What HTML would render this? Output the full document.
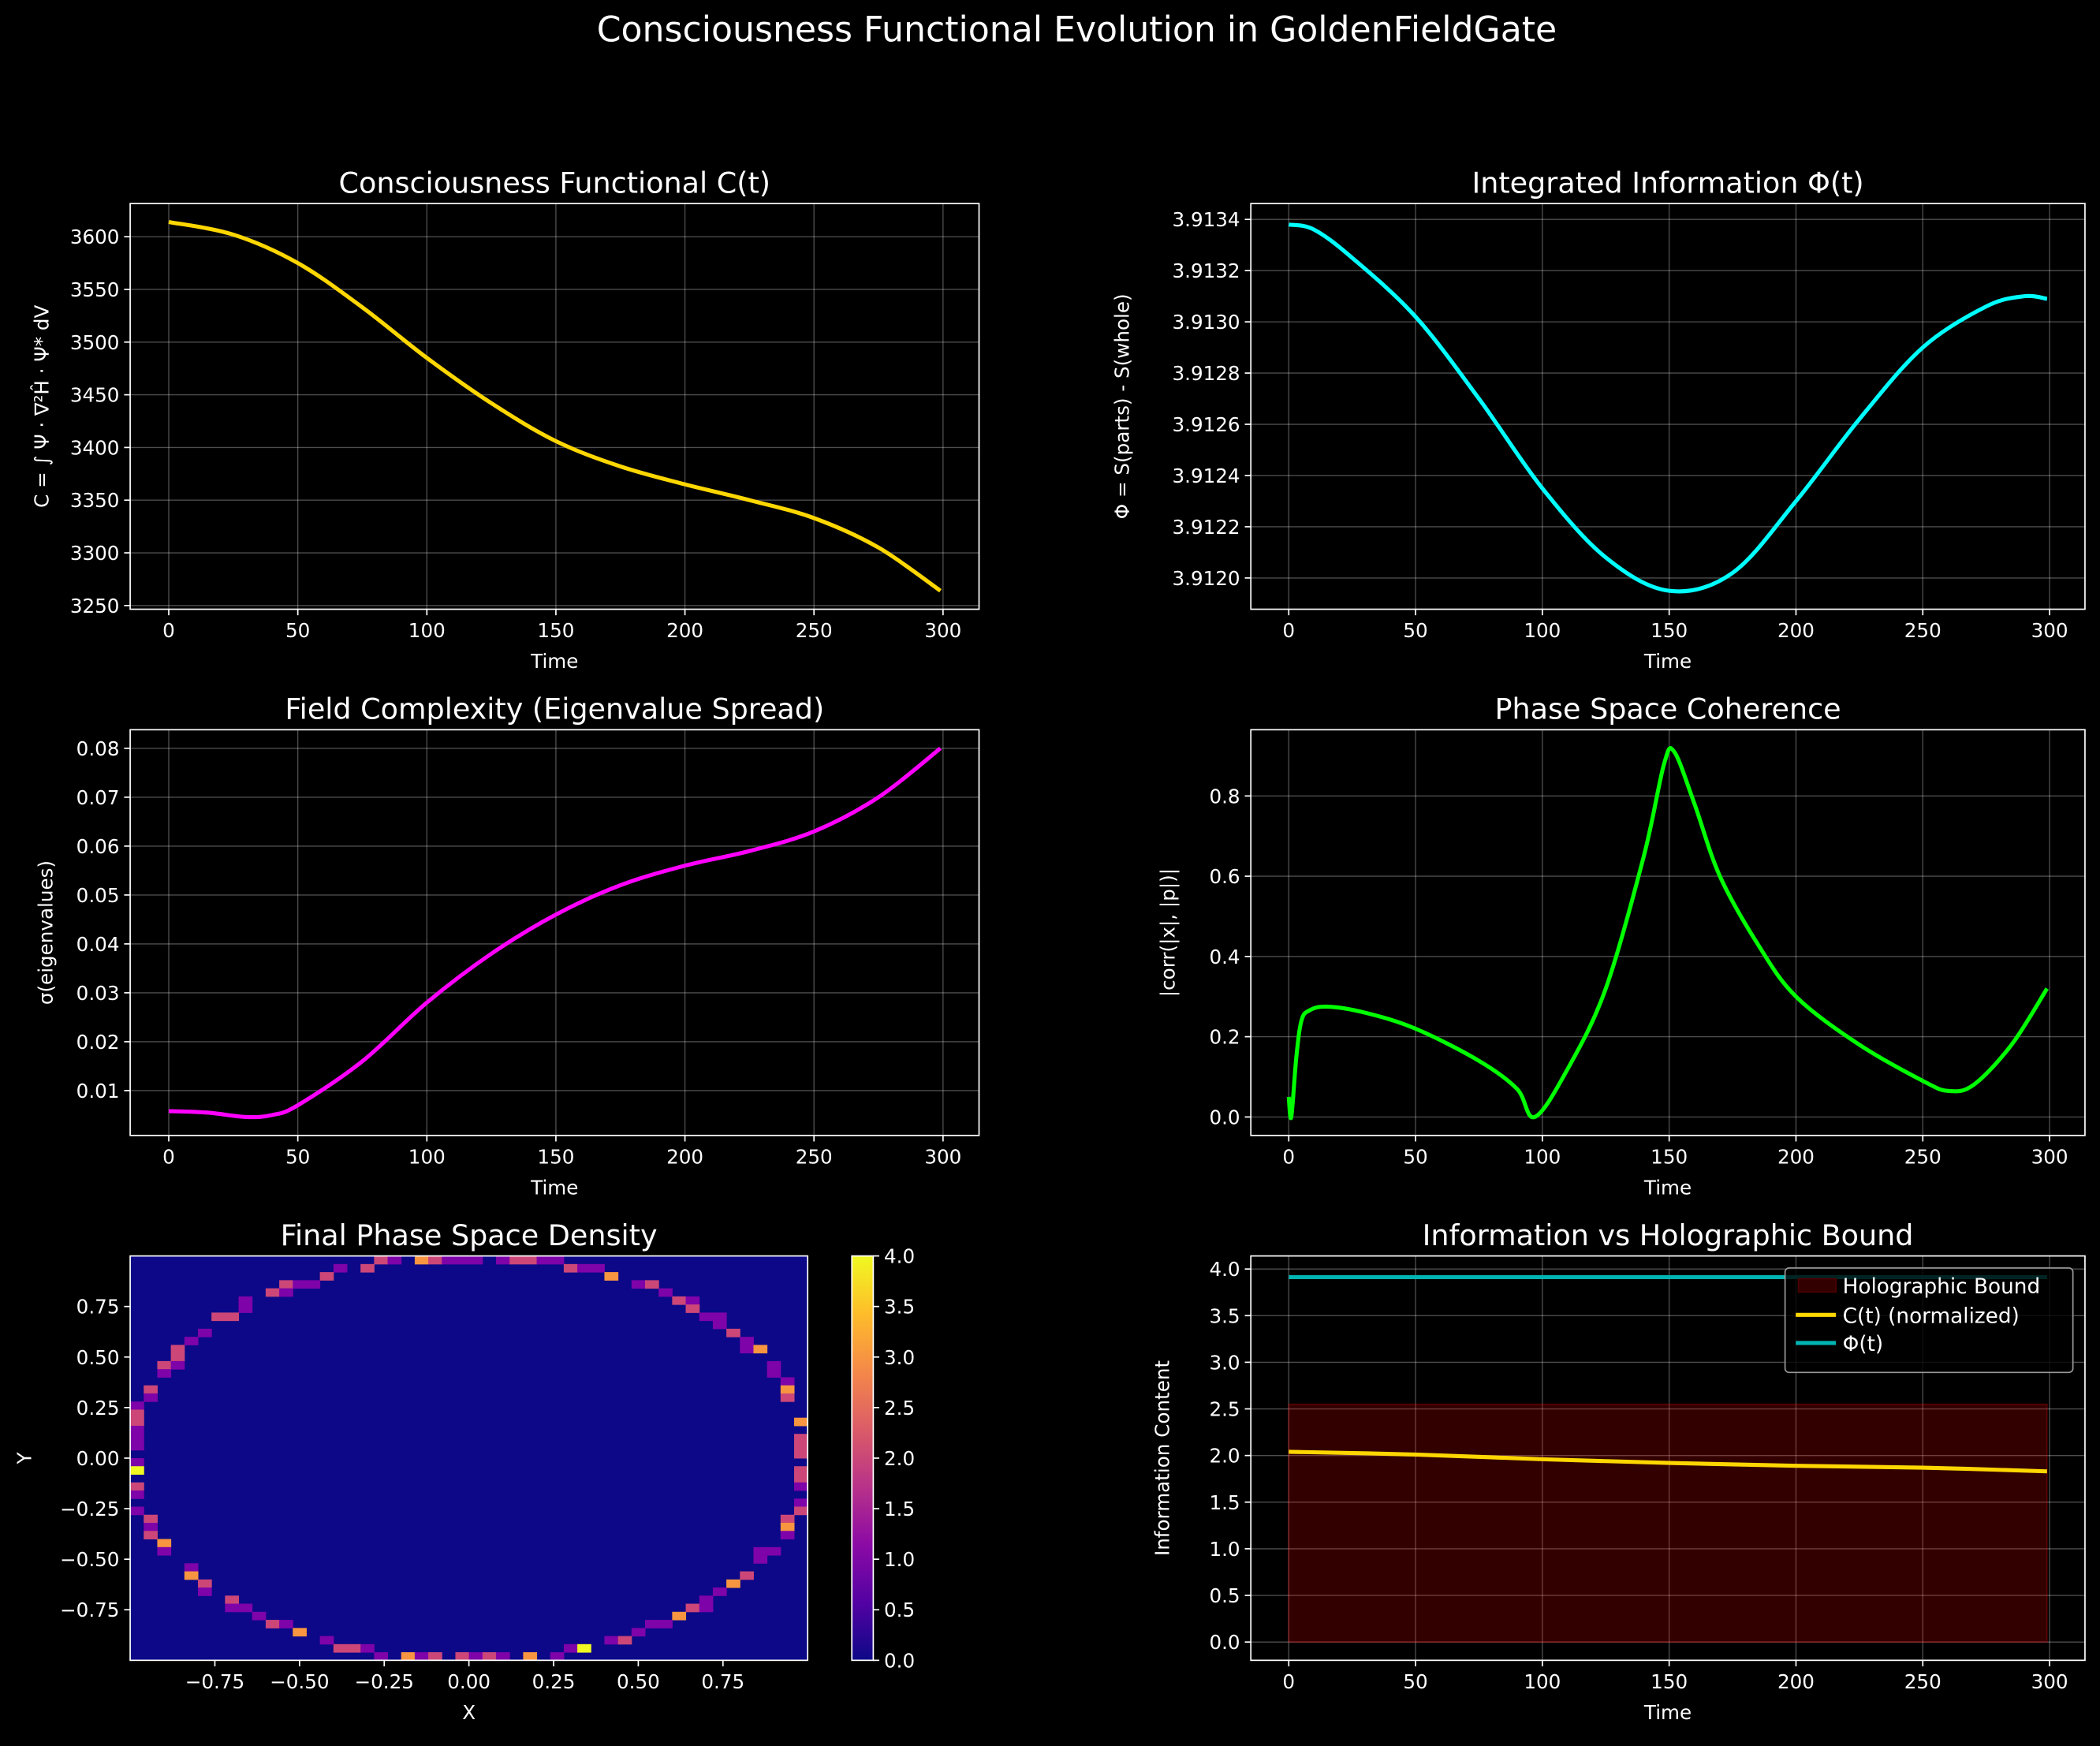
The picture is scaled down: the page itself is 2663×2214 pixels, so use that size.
<!DOCTYPE html>
<html><head><meta charset="utf-8"><style>
html,body{margin:0;padding:0;background:#000;}
svg{display:block;}
text{font-family:"DejaVu Sans","Liberation Sans",sans-serif;fill:#fff;}
</style></head><body>
<svg id="fig" xmlns="http://www.w3.org/2000/svg" width="2663" height="2214" viewBox="0 0 1568 1304">
<rect x="0" y="0" width="1568" height="1304" fill="#000"/>
<text x="804" y="31" font-size="26" text-anchor="middle">Consciousness Functional Evolution in GoldenFieldGate</text>
</svg>
<script>
// ---- data ----
const cT=[0,25,50,75,100,125,150,175,200,225,250,275,299];
const cVals=[3614,3602,3575,3533,3485,3442,3406,3382,3365,3350,3333,3305,3264];
const phiT=[0,10,25,50,75,100,125,150,175,200,225,250,275,290,299];
const phiVals=[3.91338,3.91336,3.91325,3.91302,3.91270,3.91235,3.91208,3.91195,3.91202,3.91230,3.91262,3.91290,3.91306,3.91310,3.91309];
const cxT=[0,15,30,40,50,75,100,125,150,175,200,225,250,275,299];
const cxVals=[0.0058,0.0055,0.0046,0.0050,0.0070,0.016,0.028,0.038,0.046,0.052,0.056,0.059,0.063,0.070,0.080];
const cohT=[0,1,3,5,8,15,30,50,75,90,97,110,125,140,148,152,160,170,185,200,225,250,260,270,285,299];
const cohVals=[0.05,0.0,0.15,0.24,0.265,0.275,0.26,0.22,0.14,0.07,0.0,0.12,0.32,0.65,0.88,0.91,0.78,0.6,0.43,0.30,0.18,0.09,0.065,0.08,0.18,0.32];
const normT=[0,50,100,150,200,250,299];
const normVals=[2.04,2.01,1.96,1.92,1.89,1.87,1.83];
const phiLevel=3.913;
const holoBound=2.55;
const xTicks=[0,50,100,150,200,250,300];
const cTicks=[3250,3300,3350,3400,3450,3500,3550,3600];
const phiTicks=[3.9120,3.9122,3.9124,3.9126,3.9128,3.9130,3.9132,3.9134];
const cxTicks=[0.01,0.02,0.03,0.04,0.05,0.06,0.07,0.08];
const cohTicks=[0,0.2,0.4,0.6,0.8];
const infoTicks=[0,0.5,1,1.5,2,2.5,3,3.5,4];
const hmTicks=[-0.75,-0.5,-0.25,0,0.25,0.5,0.75];
const cbTicks=[0,0.5,1,1.5,2,2.5,3,3.5,4];
// heatmap cells [row(from top), col, count]
const hmCells=[[0,18,2],[0,19,1],[0,21,3],[0,22,2],[0,23,1],[0,24,1],[0,25,1],[0,27,1],[0,28,2],[0,29,2],[0,30,1],[0,31,1],
[1,15,1],[1,17,2],[1,32,2],[1,33,1],[1,34,1],[2,14,2],[2,35,3],[3,11,2],[3,12,1],[3,13,1],[3,37,1],[3,38,2],
[4,10,2],[4,11,1],[4,39,1],[5,8,1],[5,40,2],[5,41,1],[6,8,1],[6,41,2],[7,6,2],[7,7,2],[7,42,1],[7,43,1],[8,43,1],
[9,5,1],[9,44,2],[10,4,1],[10,45,1],[11,3,2],[11,45,1],[11,46,3],[12,3,2],[13,2,2],[13,3,1],[13,47,1],[14,2,1],[14,47,1],
[15,48,1],[16,1,2],[16,48,3],[17,1,1],[17,48,2],[18,0,1],[19,0,2],[20,0,2],[20,49,3],[21,0,1],[22,0,1],[22,49,2],[23,0,1],[23,49,2],
[24,49,2],[25,0,1],[26,0,4],[26,49,2],[27,49,2],[28,0,2],[28,49,1],[29,0,1],[30,49,1],[31,0,1],[31,49,2],[32,1,2],[32,48,2],
[33,1,1],[33,48,3],[34,1,2],[34,48,1],[35,2,3],[36,2,1],[36,46,1],[36,47,1],[37,46,1],[38,4,1],[39,4,3],[39,45,2],[40,5,2],[40,44,3],
[41,5,1],[41,43,1],[42,7,2],[42,42,1],[43,7,1],[43,8,1],[43,41,2],[43,42,1],[44,9,1],[44,40,3],[45,10,2],[45,11,1],[45,38,1],[45,39,1],
[46,12,3],[46,37,1],[47,14,1],[47,35,1],[47,36,2],[48,15,2],[48,16,2],[48,17,1],[48,32,1],[48,33,4],
[49,18,1],[49,20,3],[49,21,1],[49,22,2],[49,24,2],[49,25,1],[49,26,2],[49,27,1],[49,29,3],[49,31,1]];
const nBins=50;

// ---- helpers ----
const NS="http://www.w3.org/2000/svg";
const svg=document.getElementById('fig');
const TF=14.5;
function mk(tag,attrs,parent){const e=document.createElementNS(NS,tag);for(const k in attrs)e.setAttribute(k,attrs[k]);(parent||svg).appendChild(e);return e;}
function lin(d0,d1,r0,r1){return v=>r0+(v-d0)/(d1-d0)*(r1-r0);}
function smoothPath(xs,ys){
  let d=`M${xs[0].toFixed(2)},${ys[0].toFixed(2)}`;
  for(let i=0;i<xs.length-1;i++){
    const x0=xs[Math.max(i-1,0)],y0=ys[Math.max(i-1,0)],x1=xs[i],y1=ys[i],x2=xs[i+1],y2=ys[i+1],x3=xs[Math.min(i+2,xs.length-1)],y3=ys[Math.min(i+2,ys.length-1)];
    const c1x=x1+(x2-x0)/6,c1y=y1+(y2-y0)/6,c2x=x2-(x3-x1)/6,c2y=y2-(y3-y1)/6;
    d+=` C${c1x.toFixed(2)},${c1y.toFixed(2)} ${c2x.toFixed(2)},${c2y.toFixed(2)} ${x2.toFixed(2)},${y2.toFixed(2)}`;
  }
  return d;
}
function axes(o){
  const g=mk('g',{});
  
  
  const sx=lin(o.xd[0],o.xd[1],o.x0,o.x1), sy=lin(o.yd[0],o.yd[1],o.y1,o.y0);
  mk('rect',{x:o.x0,y:o.y0,width:o.x1-o.x0,height:o.y1-o.y0,fill:'#000'},g);
  const grid=mk('g',{},g);
  o.xt.forEach(v=>{const x=sx(v);
    if(o.grid)mk('line',{x1:x,x2:x,y1:o.y0,y2:o.y1,stroke:'rgba(255,255,255,0.3)','stroke-width':0.8},grid);
    mk('line',{x1:x,x2:x,y1:o.y1,y2:o.y1+4.5,stroke:'#fff','stroke-width':1},g);
    const t=mk('text',{x:x,y:o.y1+21,'font-size':TF,'text-anchor':'middle'},g);t.textContent=o.xfmt(v);
    
    
  });
  o.yt.forEach(v=>{const y=sy(v);
    if(o.grid)mk('line',{x1:o.x0,x2:o.x1,y1:y,y2:y,stroke:'rgba(255,255,255,0.3)','stroke-width':0.8},grid);
    mk('line',{x1:o.x0-4.5,x2:o.x0,y1:y,y2:y,stroke:'#fff','stroke-width':1},g);
    const t=mk('text',{x:o.x0-8,y:y+5.3,'font-size':TF,'text-anchor':'end'},g);t.textContent=o.yfmt(v);
    
    
  });
  const tt=mk('text',{x:(o.x0+o.x1)/2,y:o.y0-8,'font-size':21.5,'text-anchor':'middle'},g);tt.textContent=o.title;
  
  
  const xl=mk('text',{x:(o.x0+o.x1)/2,y:o.y1+44,'font-size':TF,'text-anchor':'middle'},g);xl.textContent=o.xlabel;
  
  
  const yx=o.ylx, yy=(o.y0+o.y1)/2;
  const yl=mk('text',{x:yx,y:yy,'font-size':TF,'text-anchor':'middle',transform:`rotate(-90 ${yx} ${yy})`},g);yl.textContent=o.ylabel;
  
  
  const plot=mk('g',{},g);
  const frame=()=>mk('rect',{x:o.x0,y:o.y0,width:o.x1-o.x0,height:o.y1-o.y0,fill:'none',stroke:'#fff','stroke-width':1},g);
  return {g,sx,sy,plot,frame};
}
function line(ax,xs,ys,color,w,name){
  const p=mk('path',{d:smoothPath(xs.map(ax.sx),ys.map(ax.sy)),fill:'none',stroke:color,'stroke-width':w,'stroke-linejoin':'round','stroke-linecap':'butt'},ax.plot);
  
  
  return p;
}
const fi=v=>String(v);
const XD=[-14.95,313.95];
const LW=3;

// Panel 1
let a=axes({name:'consciousness-functional-panel',x0:97,x1:731,y0:152,y1:455,xd:XD,yd:[3246.5,3631.5],xt:xTicks,yt:cTicks,xfmt:fi,yfmt:fi,grid:true,
 title:'Consciousness Functional C(t)',xlabel:'Time',ylabel:'C = ∫ Ψ · ∇²Ĥ · Ψ* dV',ylx:36});
line(a,cT,cVals,'#ffd700',LW,'c-line');a.frame();

// Panel 2
a=axes({name:'integrated-information-panel',x0:934,x1:1557,y0:152,y1:455,xd:XD,yd:[3.911878,3.913462],xt:xTicks,yt:phiTicks,xfmt:fi,yfmt:v=>v.toFixed(4),grid:true,
 title:'Integrated Information Φ(t)',xlabel:'Time',ylabel:'Φ = S(parts) - S(whole)',ylx:843});
line(a,phiT,phiVals,'#00ffff',LW,'phi-line');a.frame();

// Panel 3
a=axes({name:'field-complexity-panel',x0:97,x1:731,y0:545,y1:848,xd:XD,yd:[0.00083,0.0838],xt:xTicks,yt:cxTicks,xfmt:fi,yfmt:v=>v.toFixed(2),grid:true,
 title:'Field Complexity (Eigenvalue Spread)',xlabel:'Time',ylabel:'σ(eigenvalues)',ylx:39});
line(a,cxT,cxVals,'#ff00ff',LW,'complexity-line');a.frame();

// Panel 4
a=axes({name:'phase-space-coherence-panel',x0:934,x1:1557,y0:545,y1:848,xd:XD,yd:[-0.046,0.965],xt:xTicks,yt:cohTicks,xfmt:fi,yfmt:v=>v.toFixed(1),grid:true,
 title:'Phase Space Coherence',xlabel:'Time',ylabel:'|corr(|x|, |p|)|',ylx:877});
line(a,cohT,cohVals,'#00ff00',LW,'coherence-line');a.frame();

// Panel 6
a=axes({name:'holographic-bound-panel',x0:934,x1:1557,y0:938,y1:1240,xd:XD,yd:[-0.196,4.14],xt:xTicks,yt:infoTicks,xfmt:fi,yfmt:v=>v.toFixed(1),grid:true,
 title:'Information vs Holographic Bound',xlabel:'Time',ylabel:'Information Content',ylx:873});
const hb=mk('rect',{x:a.sx(0),y:a.sy(holoBound),width:a.sx(299)-a.sx(0),height:a.sy(0)-a.sy(holoBound),fill:'rgba(255,0,0,0.2)',stroke:'rgba(255,0,0,0.25)','stroke-width':1},a.plot);


line(a,normT,normVals,'#ffd700',LW,'c-normalized-line');
const pl=mk('line',{x1:a.sx(0),x2:a.sx(299),y1:a.sy(phiLevel),y2:a.sy(phiLevel),stroke:'#00b3b3','stroke-width':LW},a.plot);


a.frame();
const lg=mk('g',{});


mk('rect',{x:1333,y:947,width:215,height:78,rx:3,fill:'rgba(0,0,0,0.8)',stroke:'#999','stroke-width':1},lg);
mk('rect',{x:1343,y:955,width:28,height:10,fill:'#330000',stroke:'#4d0000','stroke-width':1},lg);
mk('line',{x1:1341,x2:1371,y1:982,y2:982,stroke:'#ffd700','stroke-width':LW},lg);
mk('line',{x1:1341,x2:1371,y1:1003,y2:1003,stroke:'#00b3b3','stroke-width':LW},lg);
[['Holographic Bound',966],['C(t) (normalized)',988],['Φ(t)',1009]].forEach(([s,y])=>{const t=mk('text',{x:1376,y:y,'font-size':15.5},lg);t.textContent=s;
 
 });

// Panel 5 heatmap
a=axes({name:'phase-space-density-panel',x0:97,x1:603,y0:938,y1:1240,xd:[-1,1],yd:[-1,1],xt:hmTicks,yt:hmTicks,xfmt:v=>v.toFixed(2).replace('-','−'),yfmt:v=>v.toFixed(2).replace('-','−'),grid:false,
 title:'Final Phase Space Density',xlabel:'X',ylabel:'Y',ylx:23});
const cmap=['#0d0887','#7e03a8','#cc4778','#f89540','#f0f921'];
mk('rect',{x:97,y:938,width:506,height:302,fill:cmap[0]},a.plot);
const cw=506/nBins,ch=302/nBins;
hmCells.forEach(([r,c,v])=>{
  const cell=mk('rect',{x:97+c*cw,y:938+r*ch,width:cw+0.3,height:ch+0.3,fill:cmap[v]},a.plot);
  
  
});
a.frame();
// colorbar
const cb=mk('g',{});


const defs=mk('defs',{});
const grad=mk('linearGradient',{id:'plasma',x1:0,y1:1,x2:0,y2:0},defs);
['#0d0887','#5302a3','#8b0aa5','#b83289','#db5c68','#f48849','#febd2a','#f0f921'].forEach((c,i,arr)=>mk('stop',{offset:i/(arr.length-1),'stop-color':c},grad));
mk('rect',{x:636,y:938,width:16,height:302,fill:'url(#plasma)',stroke:'#fff','stroke-width':1},cb);
const cby=lin(0,4,1240,938);
cbTicks.forEach(v=>{const y=cby(v);mk('line',{x1:652,x2:656.5,y1:y,y2:y,stroke:'#fff','stroke-width':1},cb);
 const t=mk('text',{x:660,y:y+5.3,'font-size':TF},cb);t.textContent=v.toFixed(1);
 
 });
</script>
</body></html>
